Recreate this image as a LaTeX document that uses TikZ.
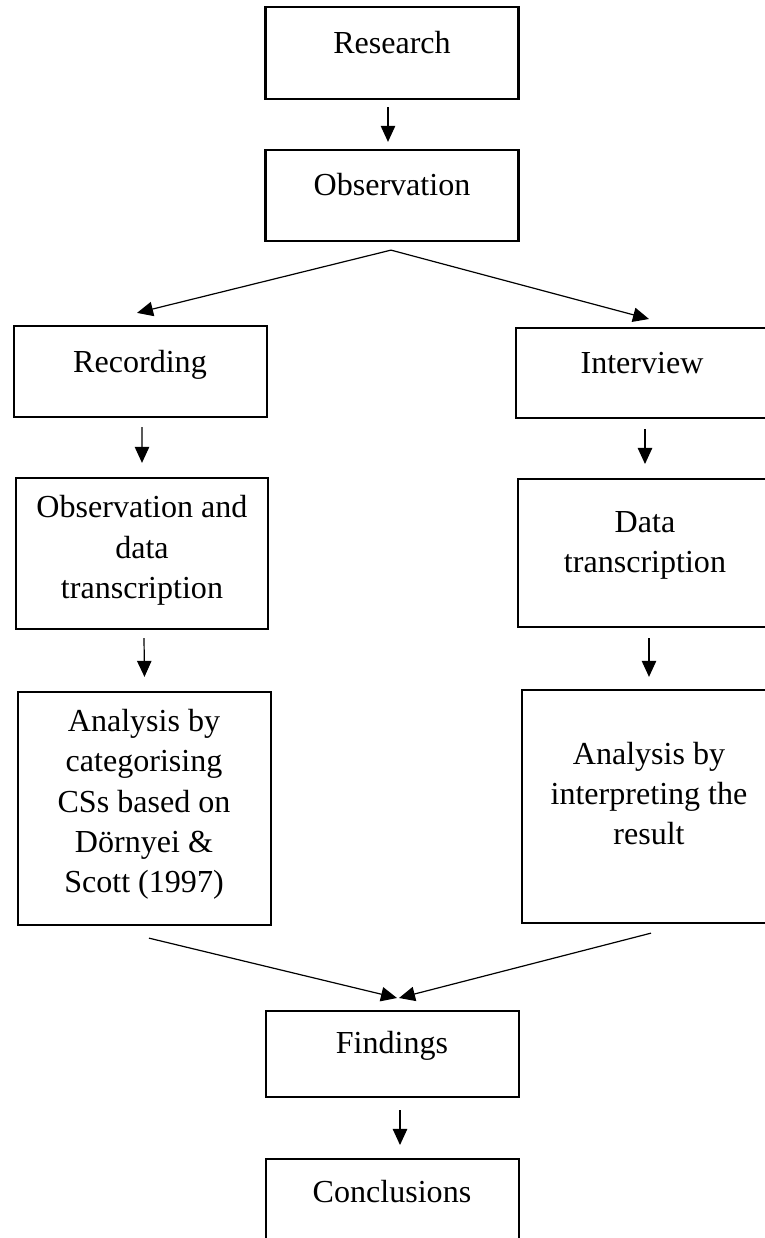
\documentclass[tikz,border=0pt]{standalone}
\usepackage{fontspec}
\setmainfont{Liberation Serif}
\usetikzlibrary{arrows.meta,calc}
\tikzset{
  box/.style={draw, line width=0.06cm, inner sep=0pt, outer sep=0pt, minimum width=6.33cm},
  boxtext/.style={anchor=base, align=center, inner sep=0pt, font=\fontsize{22.8}{28.45}\selectfont},
  arr/.style={-{Triangle[length=0.4cm,width=0.36cm]}, line width=0.03cm}
}
\begin{document}
\begin{tikzpicture}[x=0.025cm, y=-0.025cm]
\useasboundingbox (0,0) rectangle (764,1238);
\node[box, minimum height=2.3cm] (research) at (392,53) {};
\node[boxtext] (researchtext) at (392,53) {Research};
\node[box, minimum height=2.28cm] (observ) at (392,195.5) {};
\node[boxtext] (observtext) at (392,195) {Observation};
\node[box, minimum height=2.28cm] (recording) at (140.5,371.5) {};
\node[boxtext] (recordingtext) at (140,372) {Recording};
\node[box, minimum height=2.25cm, minimum width=6.35cm] (interview) at (643,373) {};
\node[boxtext] (interviewtext) at (642,373) {Interview};
\node[box, minimum height=3.78cm, minimum width=6.3cm] (obsdata) at (142,553.5) {};
\node[boxtext] (obsdatatext) at (142,598) {Observation and\\data\\transcription};
\node[box, minimum height=3.7cm, minimum width=6.35cm] (datatr) at (645,553) {};
\node[boxtext] (datatrtext) at (645,572) {Data\\transcription};
\node[box, minimum height=5.83cm] (analysisL) at (144.5,808.5) {};
\node[boxtext] (analysisLtext) at (144,892) {Analysis by\\categorising\\CSs based on\\Dörnyei \&\\Scott (1997)};
\node[box, minimum height=5.83cm, minimum width=6.35cm] (analysisR) at (649,806.5) {};
\node[boxtext] (analysisRtext) at (649,844) {Analysis by\\interpreting the\\result};
\node[box, minimum height=2.15cm] (findings) at (392.5,1054) {};
\node[boxtext] (findingstext) at (392,1053) {Findings};
\node[box, minimum height=2.3cm] (conclusions) at (392.5,1205) {};
\node[boxtext] (conclusionstext) at (392,1202) {Conclusions};
\draw[arr] ($(research.south)+(-4,8)$) -- ($(observ.north)+(-4,-8)$);
\draw[arr] ($(observ.south)+(-1,9)$) -- ($(recording.north)+(-3.5,-13)$);
\draw[arr] ($(observ.south)+(-1,9)$) -- ($(interview.north)+(6,-9)$);
\draw[arr] ($(recording.south)+(1.5,10)$) -- ($(obsdata.north)+(0,-15)$);
\draw[arr] ($(interview.south)+(2,11)$) -- ($(datatr.north)+(0,-15)$);
\draw[arr] ($(obsdata.south)+(2,9)$) -- ($(analysisL.north)+(0,-15)$);
\draw[arr] ($(datatr.south)+(4,11)$) -- ($(analysisR.north)+(0,-13)$);
\draw[arr] ($(analysisL.south)+(4.5,13)$) -- ($(findings.north)+(4.5,-13)$);
\draw[arr] ($(analysisR.south)+(2,10)$) -- ($(findings.north)+(6.5,-13)$);
\draw[arr] ($(findings.south)+(7.5,13)$) -- ($(conclusions.north)+(7.5,-14)$);
\end{tikzpicture}
\end{document}
